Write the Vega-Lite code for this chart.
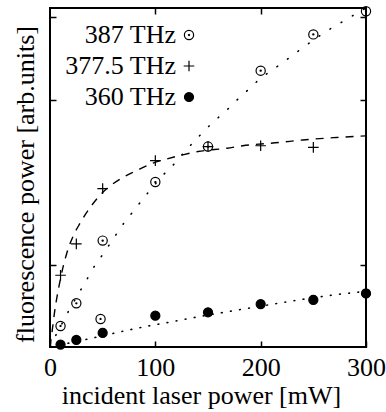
{
  "$schema": "https://vega.github.io/schema/vega-lite/v6.json",
  "width": 316,
  "height": 339,
  "autosize": "none",
  "padding": {"left": 50, "top": 8, "right": 20, "bottom": 65},
  "background": "white",
  "config": {
    "view": {"stroke": "black", "strokeWidth": 2},
    "font": "Liberation Serif",
    "axis": {
      "domain": false, "grid": false, "labelFlush": false,
      "tickColor": "black", "tickWidth": 1.5, "tickSize": -6,
      "labelFont": "Liberation Serif", "labelFontSize": 26, "labelColor": "black",
      "titleFont": "Liberation Serif", "titleFontSize": 26, "titleFontWeight": "normal", "titleColor": "black"
    },
    "legend": {
      "orient": "none", "legendX": 126, "legendY": 14, "title": null,
      "labelAlign": "right", "labelOffset": -26, "labelFont": "Liberation Serif", "labelFontSize": 26, "labelColor": "black", "labelLimit": 0,
      "symbolSize": 85, "symbolStrokeWidth": 1.2, "rowPadding": 5, "padding": 0
    }
  },
  "datasets": {
    "pts": [
      {"series": "387 THz", "power": 10, "fluor": 0.255},
      {"series": "387 THz", "power": 25, "fluor": 0.53},
      {"series": "387 THz", "power": 48, "fluor": 0.34},
      {"series": "387 THz", "power": 50, "fluor": 1.29},
      {"series": "387 THz", "power": 100, "fluor": 2.0},
      {"series": "387 THz", "power": 150, "fluor": 2.43},
      {"series": "387 THz", "power": 200, "fluor": 3.35},
      {"series": "387 THz", "power": 250, "fluor": 3.79},
      {"series": "387 THz", "power": 300, "fluor": 4.07},
      {"series": "377.5 THz", "power": 10, "fluor": 0.87},
      {"series": "377.5 THz", "power": 25, "fluor": 1.25},
      {"series": "377.5 THz", "power": 50, "fluor": 1.92},
      {"series": "377.5 THz", "power": 100, "fluor": 2.26},
      {"series": "377.5 THz", "power": 150, "fluor": 2.43},
      {"series": "377.5 THz", "power": 200, "fluor": 2.44},
      {"series": "377.5 THz", "power": 250, "fluor": 2.42},
      {"series": "360 THz", "power": 10, "fluor": 0.03},
      {"series": "360 THz", "power": 25, "fluor": 0.085},
      {"series": "360 THz", "power": 50, "fluor": 0.17},
      {"series": "360 THz", "power": 100, "fluor": 0.38},
      {"series": "360 THz", "power": 150, "fluor": 0.42},
      {"series": "360 THz", "power": 200, "fluor": 0.52},
      {"series": "360 THz", "power": 250, "fluor": 0.57},
      {"series": "360 THz", "power": 300, "fluor": 0.65}
    ],
    "fits": [
      {"series": "387 THz", "power": 0, "fluor": 0},
      {"series": "387 THz", "power": 5, "fluor": 0.13},
      {"series": "387 THz", "power": 10, "fluor": 0.25},
      {"series": "387 THz", "power": 17.4, "fluor": 0.43},
      {"series": "387 THz", "power": 30, "fluor": 0.71},
      {"series": "387 THz", "power": 36.4, "fluor": 0.85},
      {"series": "387 THz", "power": 42.7, "fluor": 0.99},
      {"series": "387 THz", "power": 50, "fluor": 1.12},
      {"series": "387 THz", "power": 63.6, "fluor": 1.38},
      {"series": "387 THz", "power": 71.2, "fluor": 1.52},
      {"series": "387 THz", "power": 78.8, "fluor": 1.64},
      {"series": "387 THz", "power": 86.1, "fluor": 1.76},
      {"series": "387 THz", "power": 93, "fluor": 1.87},
      {"series": "387 THz", "power": 110, "fluor": 2.12},
      {"series": "387 THz", "power": 118.7, "fluor": 2.23},
      {"series": "387 THz", "power": 126.6, "fluor": 2.35},
      {"series": "387 THz", "power": 134.5, "fluor": 2.46},
      {"series": "387 THz", "power": 143.4, "fluor": 2.58},
      {"series": "387 THz", "power": 151.9, "fluor": 2.69},
      {"series": "387 THz", "power": 161.4, "fluor": 2.8},
      {"series": "387 THz", "power": 170.9, "fluor": 2.91},
      {"series": "387 THz", "power": 180.4, "fluor": 3.03},
      {"series": "387 THz", "power": 189.2, "fluor": 3.13},
      {"series": "387 THz", "power": 197.5, "fluor": 3.23},
      {"series": "387 THz", "power": 208.9, "fluor": 3.34},
      {"series": "387 THz", "power": 219, "fluor": 3.43},
      {"series": "387 THz", "power": 228.5, "fluor": 3.52},
      {"series": "387 THz", "power": 238, "fluor": 3.61},
      {"series": "387 THz", "power": 258, "fluor": 3.79},
      {"series": "387 THz", "power": 269, "fluor": 3.88},
      {"series": "387 THz", "power": 280, "fluor": 3.96},
      {"series": "387 THz", "power": 290.5, "fluor": 4.04},
      {"series": "387 THz", "power": 300, "fluor": 4.11},
      {"series": "377.5 THz", "power": 0, "fluor": 0},
      {"series": "377.5 THz", "power": 2.2, "fluor": 0.21},
      {"series": "377.5 THz", "power": 4.3, "fluor": 0.42},
      {"series": "377.5 THz", "power": 6.4, "fluor": 0.59},
      {"series": "377.5 THz", "power": 9.5, "fluor": 0.8},
      {"series": "377.5 THz", "power": 12.6, "fluor": 0.98},
      {"series": "377.5 THz", "power": 16, "fluor": 1.14},
      {"series": "377.5 THz", "power": 21.8, "fluor": 1.34},
      {"series": "377.5 THz", "power": 28.5, "fluor": 1.5},
      {"series": "377.5 THz", "power": 38, "fluor": 1.69},
      {"series": "377.5 THz", "power": 47.5, "fluor": 1.84},
      {"series": "377.5 THz", "power": 68.4, "fluor": 2.05},
      {"series": "377.5 THz", "power": 82.6, "fluor": 2.14},
      {"series": "377.5 THz", "power": 97.8, "fluor": 2.23},
      {"series": "377.5 THz", "power": 111, "fluor": 2.28},
      {"series": "377.5 THz", "power": 126, "fluor": 2.33},
      {"series": "377.5 THz", "power": 140.5, "fluor": 2.37},
      {"series": "377.5 THz", "power": 168, "fluor": 2.41},
      {"series": "377.5 THz", "power": 183, "fluor": 2.44},
      {"series": "377.5 THz", "power": 218, "fluor": 2.48},
      {"series": "377.5 THz", "power": 240, "fluor": 2.51},
      {"series": "377.5 THz", "power": 272, "fluor": 2.54},
      {"series": "377.5 THz", "power": 300, "fluor": 2.56},
      {"series": "360 THz", "power": 0, "fluor": 0},
      {"series": "360 THz", "power": 34.8, "fluor": 0.093},
      {"series": "360 THz", "power": 60.1, "fluor": 0.165},
      {"series": "360 THz", "power": 77.6, "fluor": 0.214},
      {"series": "360 THz", "power": 94.9, "fluor": 0.258},
      {"series": "360 THz", "power": 112.3, "fluor": 0.298},
      {"series": "360 THz", "power": 129.1, "fluor": 0.339},
      {"series": "360 THz", "power": 163, "fluor": 0.416},
      {"series": "360 THz", "power": 189.2, "fluor": 0.472},
      {"series": "360 THz", "power": 215.2, "fluor": 0.527},
      {"series": "360 THz", "power": 239.9, "fluor": 0.578},
      {"series": "360 THz", "power": 265.8, "fluor": 0.625},
      {"series": "360 THz", "power": 300, "fluor": 0.675}
    ]
  },
  "layer": [
    {
      "data": {"name": "fits"},
      "transform": [{"filter": "datum.series === '387 THz'"}],
      "mark": {"type": "line", "color": "black", "strokeWidth": 1.6, "strokeDash": [0.8, 12.2], "strokeCap": "round", "interpolate": "monotone"},
      "encoding": {
        "x": {"field": "power", "type": "quantitative", "scale": {"domain": [0, 300], "nice": false}, "axis": null},
        "y": {"field": "fluor", "type": "quantitative", "scale": {"domain": [0, 4.11], "nice": false}, "axis": null}
      }
    },
    {
      "data": {"name": "fits"},
      "transform": [{"filter": "datum.series === '377.5 THz'"}],
      "mark": {"type": "line", "color": "black", "strokeWidth": 1.4, "strokeDash": [8, 7], "interpolate": "monotone"},
      "encoding": {
        "x": {"field": "power", "type": "quantitative", "axis": null},
        "y": {"field": "fluor", "type": "quantitative", "axis": null}
      }
    },
    {
      "data": {"name": "fits"},
      "transform": [{"filter": "datum.series === '360 THz'"}],
      "mark": {"type": "line", "color": "black", "strokeWidth": 1.6, "strokeDash": [0.8, 8.4], "strokeCap": "round", "interpolate": "monotone"},
      "encoding": {
        "x": {"field": "power", "type": "quantitative", "axis": {"orient": "top", "values": [100, 200], "labels": false, "title": null}},
        "y": {"field": "fluor", "type": "quantitative", "axis": {"orient": "right", "values": [1, 3, 4], "labels": false, "title": null}}
      }
    },
    {
      "data": {"name": "pts"},
      "mark": {"type": "point", "opacity": 1, "strokeWidth": 1.2, "size": 85},
      "encoding": {
        "x": {"field": "power", "type": "quantitative", "axis": {"orient": "bottom", "values": [0, 100, 200, 300], "title": "incident laser power [mW]", "labelPadding": 13, "titlePadding": 2, "titleX": 151, "titleAlign": "center"}},
        "y": {"field": "fluor", "type": "quantitative", "axis": {"orient": "left", "values": [1, 3, 4], "labels": false, "title": "fluorescence power [arb.units]", "titlePadding": 11, "titleY": 176, "titleAlign": "center"}},
        "shape": {
          "field": "series", "type": "nominal",
          "scale": {
            "domain": ["387 THz", "377.5 THz", "360 THz"],
            "range": [
              "M1,0A1,1,0,1,1,-1,0A1,1,0,1,1,1,0ZM0.12,0A0.12,0.12,0,1,1,-0.12,0A0.12,0.12,0,1,1,0.12,0Z",
              "M-1.15,0L1.15,0M0,-1.15L0,1.15",
              "M0.98,0A0.98,0.98,0,1,1,-0.98,0A0.98,0.98,0,1,1,0.98,0Z"
            ]
          }
        },
        "fill": {
          "field": "series", "type": "nominal",
          "scale": {"domain": ["387 THz", "377.5 THz", "360 THz"], "range": ["transparent", "transparent", "black"]}
        },
        "stroke": {
          "field": "series", "type": "nominal",
          "scale": {"domain": ["387 THz", "377.5 THz", "360 THz"], "range": ["black", "black", "black"]}
        }
      }
    }
  ],
  "resolve": {"axis": {"x": "independent", "y": "independent"}}
}
